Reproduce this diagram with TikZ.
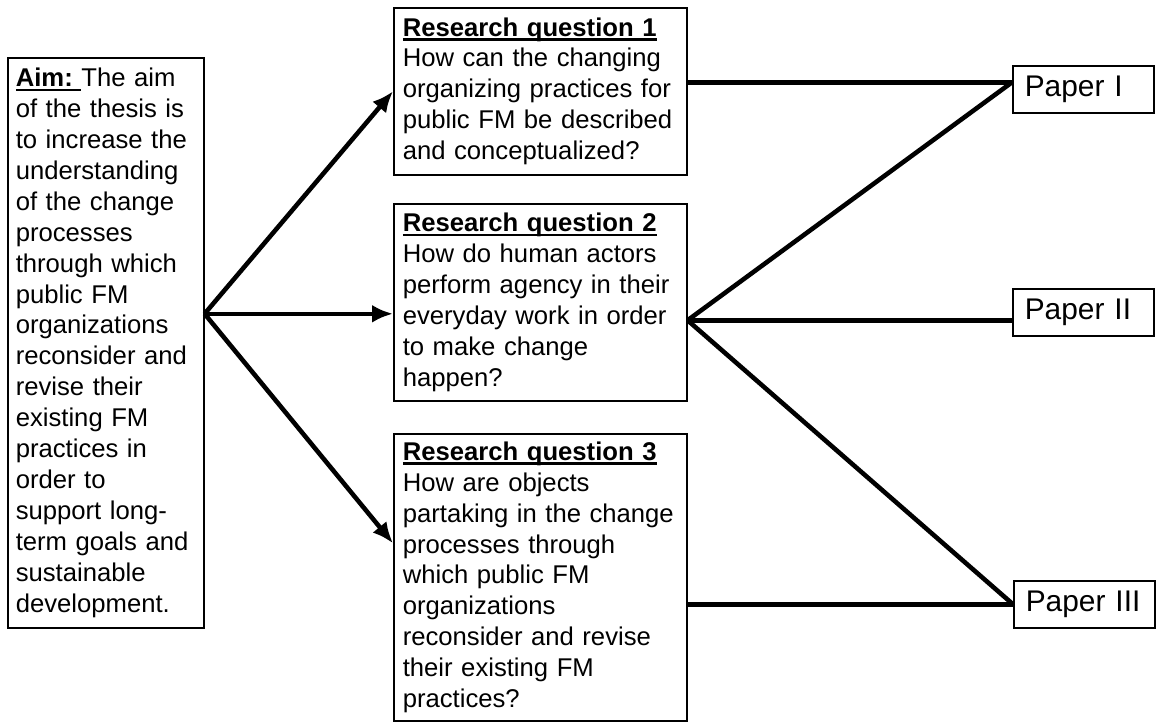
\documentclass[tikz,border=0pt]{standalone}
\usepackage{fontspec}
\setmainfont{Liberation Sans}
\usetikzlibrary{arrows.meta,calc}
% thick underline for the box headings
\newcommand{\headline}[1]{\setbox0\hbox{#1}\rlap{\rule[-2.6pt]{\wd0}{1.4pt}}\box0}

\begin{document}
\begin{tikzpicture}[x=0.2mm, y=-0.2mm,
  box/.style={draw=black, line width=0.9pt, anchor=north west, align=left,
              inner xsep=1.8mm, inner ysep=1mm,
              font=\fontsize{14.6}{17.6}\selectfont},
  aimbox/.style={box, text width=36mm, inner xsep=1.6mm, minimum height=114mm},
  qbox/.style={box, text width=55mm},
  paper/.style={box, text width=23.4mm, inner xsep=2.4mm, minimum height=9.4mm,
                font=\fontsize{17}{20}\selectfont},
  arr/.style={line width=2.6pt, -{Latex[length=4.2mm,width=3.6mm]}},
  link/.style={line width=2.6pt},
]
\useasboundingbox (0,0) rectangle (1157,724);

% ---- Aim ----
\node[aimbox] (aim) at (7,57) {\headline{\textbf{Aim:}\ }The aim\\of the thesis is\\to increase the\\understanding\\of the change\\processes\\through which\\public FM\\organizations\\reconsider and\\revise their\\existing FM\\practices in\\order to\\support long-\\term goals and\\sustainable\\development.};

% ---- Research questions ----
\node[qbox, minimum height=33.4mm] (rq1) at (393,7)
  {\headline{\textbf{Research question 1}}\\How can the changing\\organizing practices for\\public FM be described\\and conceptualized?};
\node[qbox, minimum height=39.4mm] (rq2) at (393,203)
  {\headline{\textbf{Research question 2}}\\How do human actors\\perform agency in their\\everyday work in order\\to make change\\happen?};
\node[qbox, minimum height=57.4mm] (rq3) at (393,433)
  {\headline{\textbf{Research question 3}}\\How are objects\\partaking in the change\\processes through\\which public FM\\organizations\\reconsider and revise\\their existing FM\\practices?};

% ---- Papers ----
\node[paper] (p1) at (1012,65)  {Paper I};
\node[paper] (p2) at (1012,288) {Paper II};
\node[paper] (p3) at (1013,580) {Paper III};

% ---- Junction points ----
\coordinate (aimout) at ($(aim.east)+(0,-29)$);
\coordinate (rq2out) at ($(rq2.east)+(0,18)$);
\coordinate (p1in)   at ($(p1.west)+(0,-7)$);

% ---- Aim to questions ----
\draw[arr] (aimout) -- (rq1.west);
\draw[arr] (aimout) -- (rq2.west |- aimout);
\draw[arr] (aimout) -- (rq3.167);

% ---- Questions to papers ----
\draw[link] (rq1.east |- p1in) -- (p1in);
\draw[link] (rq2out) -- (p1in);
\draw[link] (rq2out) -- (p2.west |- rq2out);
\draw[link] (rq2out) -- (p3.west);
\draw[link] (rq3.east |- p3.west) -- (p3.west);
\end{tikzpicture}
\end{document}
